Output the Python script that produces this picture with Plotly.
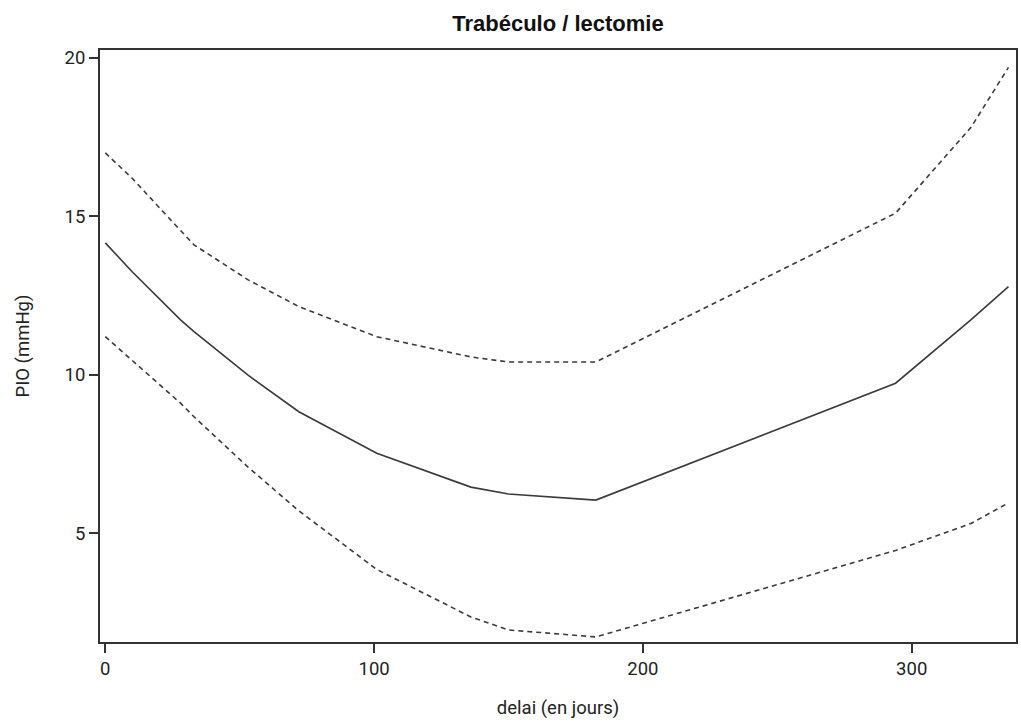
import plotly.graph_objects as go

# Délai (jours) et PIO estimée avec bornes de l'intervalle de confiance
delai = [0, 10, 28, 33, 53, 72, 101, 136, 150, 182.5, 294, 322, 336]
pio = [14.16, 13.25, 11.73, 11.36, 9.99, 8.83, 7.52, 6.45, 6.23, 6.04, 9.73, 11.73, 12.78]
borne_sup = [17.0, 16.2, 14.55, 14.1, 13.0, 12.15, 11.2, 10.56, 10.4, 10.4, 15.1, 17.8, 19.7]
borne_inf = [11.2, 10.45, 9.1, 8.67, 7.09, 5.7, 3.85, 2.35, 1.94, 1.72, 4.45, 5.3, 5.95]

x_ticks = [0, 100, 200, 300]
y_ticks = [5, 10, 15, 20]

line_col = "#3a3a3a"
label_font = dict(family="Roboto, Arial, sans-serif", size=18.5, color="#222222")

fig = go.Figure()
fig.add_trace(go.Scatter(x=delai, y=borne_sup, mode="lines",
                         line=dict(color=line_col, width=1.6, dash="5px,4px"),
                         showlegend=False, name="Borne sup."))
fig.add_trace(go.Scatter(x=delai, y=pio, mode="lines",
                         line=dict(color=line_col, width=1.6),
                         showlegend=False, name="PIO"))
fig.add_trace(go.Scatter(x=delai, y=borne_inf, mode="lines",
                         line=dict(color=line_col, width=1.6, dash="5px,4px"),
                         showlegend=False, name="Borne inf."))

axis_common = dict(
    showgrid=False, zeroline=False,
    showline=True, linecolor="#333333", linewidth=2, mirror=True,
    ticks="outside", ticklen=9, tickwidth=1.5, tickcolor="#333333",
    tickfont=label_font,
)

fig.update_layout(
    width=1021, height=725,
    margin=dict(l=100, r=3, t=50, b=83),
    paper_bgcolor="white", plot_bgcolor="white",
    title=dict(text="<b>Trabéculo / lectomie</b>", x=0.5465, xanchor="center",
               y=0.968, yanchor="middle",
               font=dict(family="Liberation Sans, Arial, sans-serif", size=22, color="#111111")),
    xaxis=dict(range=[-1.97, 338.8], tickvals=x_ticks,
               title=dict(text="delai (en jours)", font=label_font, standoff=22),
               **axis_common),
    yaxis=dict(range=[1.56, 20.25], tickvals=y_ticks,
               title=dict(text="PIO (mmHg)", font=label_font, standoff=30),
               **axis_common),
)

fig.write_html("out.html")
